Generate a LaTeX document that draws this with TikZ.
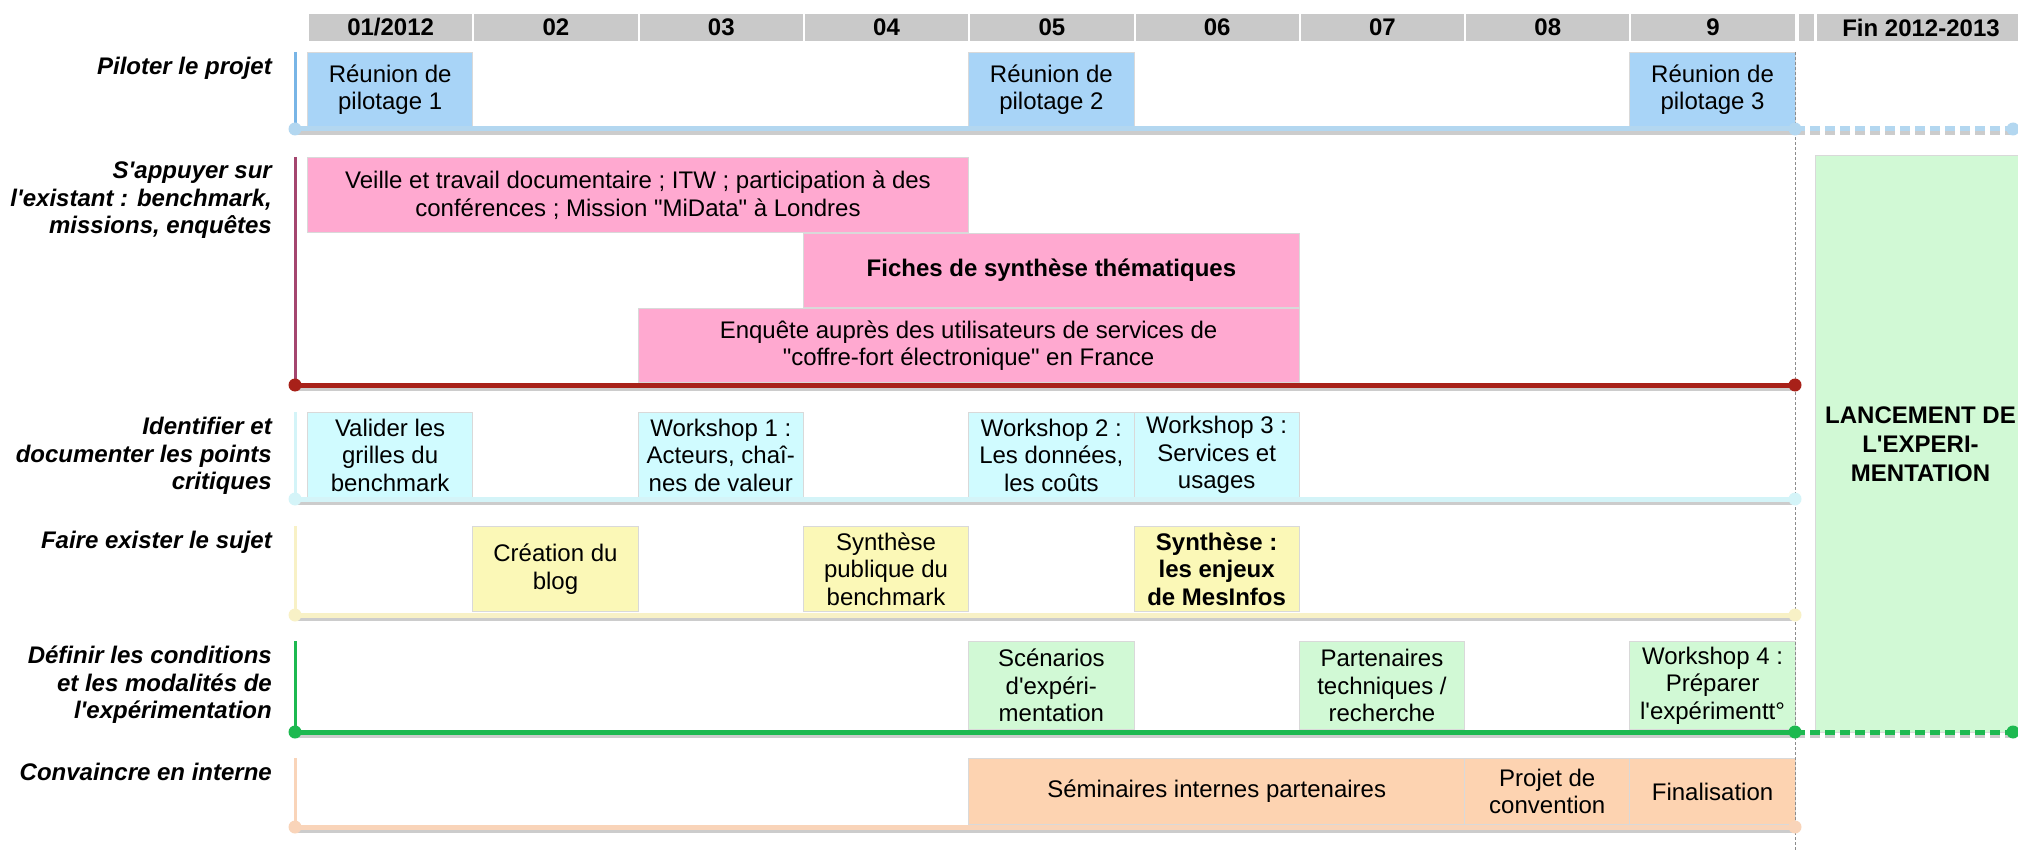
\documentclass[tikz,border=0pt]{standalone}
\usepackage{fontspec}
\setmainfont{Liberation Sans}[Ligatures=TeXOff]
\usetikzlibrary{shapes,arrows}

\definecolor{headgrey}{HTML}{C9C9C9}
\definecolor{pilotbox}{HTML}{A8D4F7}
\definecolor{pilotbar}{HTML}{B3D7F0}
\definecolor{pilotline}{HTML}{78B5E6}
\definecolor{existbox}{HTML}{FFA9D0}
\definecolor{existbar}{HTML}{A82119}
\definecolor{existline}{HTML}{A4466F}
\definecolor{critbox}{HTML}{D0FBFF}
\definecolor{critbar}{HTML}{D4F4F8}
\definecolor{sujetbox}{HTML}{FBF8B7}
\definecolor{sujetbar}{HTML}{F8F1C6}
\definecolor{xpbox}{HTML}{D1F9D5}
\definecolor{xpbar}{HTML}{1DB950}
\definecolor{internbox}{HTML}{FDD3B1}
\definecolor{internbar}{HTML}{F9D4B9}

\begin{document}
\begin{tikzpicture}[x=1pt, y=-1pt, font=\fontsize{24}{27.5}\selectfont]

    % Define block styles
    \tikzstyle{cell} = [rectangle, draw=white, line width=2pt, fill=headgrey,
        anchor=north west, inner sep=0pt, minimum width=165.3pt, minimum height=29pt,
        font=\fontsize{24}{27.5}\selectfont\bfseries]
    \tikzstyle{block} = [rectangle, draw=black!15, line width=1pt, anchor=north west,
        align=center, inner sep=0pt, minimum width=165.3pt, minimum height=74pt]
    \tikzstyle{pilot} = [block, fill=pilotbox]
    \tikzstyle{exist} = [block, fill=existbox, minimum width=661pt, minimum height=75pt]
    \tikzstyle{crit} = [block, fill=critbox, minimum height=85pt]
    \tikzstyle{sujet} = [block, fill=sujetbox, minimum height=85pt]
    \tikzstyle{xp} = [block, fill=xpbox, minimum height=88pt]
    \tikzstyle{intern} = [block, fill=internbox, minimum height=66pt]
    \tikzstyle{goal} = [anchor=north east, align=right, inner sep=0pt,
        font=\fontsize{24}{27.5}\selectfont\bfseries\itshape]
    \tikzstyle{bar} = [line width=5pt]
    \tikzstyle{shade} = [line width=7pt, black!20, transform canvas={yshift=-2.5pt}]
    \tikzstyle{riser} = [line width=3pt]
    \tikzstyle{dot} = [circle, inner sep=0pt, minimum size=13pt]

    \useasboundingbox (0,0) rectangle (2018,850);

    % Month header
    \node [cell] (m01) at (307,12) {01/2012};
    \node [cell] (m02) at (472.3,12) {02};
    \node [cell] (m03) at (637.6,12) {03};
    \node [cell] (m04) at (802.9,12) {04};
    \node [cell] (m05) at (968.2,12) {05};
    \node [cell] (m06) at (1133.5,12) {06};
    \node [cell] (m07) at (1298.8,12) {07};
    \node [cell] (m08) at (1464.1,12) {08};
    \node [cell] (m09) at (1629.4,12) {9};
    \node [cell, minimum width=17pt] (gap) at (1797,12) {};
    \node [cell, minimum width=210pt] (fin) at (1815,12) {Fin 2012-2013};

    % Row labels
    \node [goal] (g1) at (272,57) {Piloter le projet};
    \node [goal] (g2) at (272,162) {S'appuyer sur\\l'existant : benchmark,\\missions, enquêtes};
    \node [goal] (g3) at (272,417) {Identifier et\\documenter les points\\critiques};
    \node [goal] (g4) at (272,531) {Faire exister le sujet};
    \node [goal] (g5) at (272,646) {Définir les conditions\\et les modalités de\\l'expérimentation};
    \node [goal] (g6) at (272,763) {Convaincre en interne};

    % Place nodes
    \node [pilot] (pil1) at (307,52) {Réunion de\\pilotage 1};
    \node [pilot] (pil2) at (968.2,52) {Réunion de\\pilotage 2};
    \node [pilot] (pil3) at (1629.4,52) {Réunion de\\pilotage 3};

    \node [exist] (veille) at (307,157) {Veille et travail documentaire ; ITW ; participation à des\\conférences ; Mission "MiData" à Londres};
    \node [exist, minimum width=496pt, minimum height=74pt, font=\fontsize{24}{27.5}\selectfont\bfseries] (fiches) at (802.9,233) {Fiches de synthèse thématiques};
    \node [exist, minimum height=74pt] (enquete) at (637.6,308) {Enquête auprès des utilisateurs de services de\\"coffre-fort électronique" en France};

    \node [crit] (valider) at (307,412) {Valider les\\grilles du\\benchmark};
    \node [crit] (ws1) at (637.6,412) {Workshop 1 :\\Acteurs, chaî-\\nes de valeur};
    \node [crit] (ws2) at (968.2,412) {Workshop 2 :\\Les données,\\les coûts};
    \node [crit] (ws3) at (1133.5,412) {Workshop 3 :\\Services et\\usages};

    \node [sujet] (blog) at (472.3,526) {Création du\\blog};
    \node [sujet] (synpub) at (802.9,526) {Synthèse\\publique du\\benchmark};
    \node [sujet, font=\fontsize{24}{27.5}\selectfont\bfseries] (enjeux) at (1133.5,526) {Synthèse :\\les enjeux\\de MesInfos};

    \node [xp] (scen) at (968.2,641) {Scénarios\\d'expéri-\\mentation};
    \node [xp] (part) at (1298.8,641) {Partenaires\\techniques /\\recherche};
    \node [xp] (ws4) at (1629.4,641) {Workshop 4 :\\Préparer\\l'expérimentt°};

    \node [intern, minimum width=496pt] (semi) at (968.2,758) {Séminaires internes partenaires};
    \node [intern] (conv) at (1464.1,758) {Projet de\\convention};
    \node [intern] (final) at (1629.4,758) {Finalisation};

    \node [block, fill=xpbox, minimum width=210pt, minimum height=577pt,
        font=\fontsize{24}{29}\selectfont\bfseries] (launch) at (1815,155) {LANCEMENT DE\\L'EXPERI-\\MENTATION};

    % Row bars
    \coordinate (t1) at (295,52);  \coordinate (a1) at (295,129); \coordinate (b1) at (1795,129); \coordinate (c1) at (2013,129);
    \coordinate (t2) at (295,157); \coordinate (a2) at (295,385); \coordinate (b2) at (1795,385);
    \coordinate (t3) at (295,412); \coordinate (a3) at (295,499); \coordinate (b3) at (1795,499);
    \coordinate (t4) at (295,526); \coordinate (a4) at (295,615); \coordinate (b4) at (1795,615);
    \coordinate (t5) at (295,641); \coordinate (a5) at (295,732); \coordinate (b5) at (1795,732); \coordinate (c5) at (2013,732);
    \coordinate (t6) at (295,758); \coordinate (a6) at (295,827); \coordinate (b6) at (1795,827);

    \draw [shade] (a1) -- (b1);
    \draw [shade] (a2) -- (b2);
    \draw [shade] (a3) -- (b3);
    \draw [shade] (a4) -- (b4);
    \draw [shade] (a5) -- (b5);
    \draw [shade] (a6) -- (b6);
    \draw [shade, dash pattern=on 10pt off 5pt] (b1) -- (c1);
    \draw [shade, dash pattern=on 10pt off 5pt] (b5) -- (c5);

    \draw [riser, pilotline] (t1) -- (a1);
    \draw [riser, existline] (t2) -- (a2);
    \draw [riser, critbar] (t3) -- (a3);
    \draw [riser, sujetbar] (t4) -- (a4);
    \draw [riser, xpbar] (t5) -- (a5);
    \draw [riser, internbar] (t6) -- (a6);

    \draw [bar, pilotbar] (a1) -- (b1);
    \draw [bar, existbar] (a2) -- (b2);
    \draw [bar, critbar] (a3) -- (b3);
    \draw [bar, sujetbar] (a4) -- (b4);
    \draw [bar, xpbar] (a5) -- (b5);
    \draw [bar, internbar] (a6) -- (b6);
    \draw [bar, pilotbar, dash pattern=on 10pt off 5pt] (b1) -- (c1);
    \draw [bar, xpbar, dash pattern=on 10pt off 5pt] (b5) -- (c5);

    % End of the year line
    \coordinate (cuttop) at (1795,52);
    \coordinate (cutbot) at (1795,850);
    \draw [black!45, line width=1pt, dash pattern=on 3pt off 2pt] (cuttop) -- (cutbot);

    % Bar ends
    \node [dot, fill=pilotbar] (da1) at (a1) {};
    \node [dot, fill=pilotbar] (db1) at (b1) {};
    \node [dot, fill=pilotbar] (dc1) at (c1) {};
    \node [dot, fill=existbar] (da2) at (a2) {};
    \node [dot, fill=existbar] (db2) at (b2) {};
    \node [dot, fill=critbar] (da3) at (a3) {};
    \node [dot, fill=critbar] (db3) at (b3) {};
    \node [dot, fill=sujetbar] (da4) at (a4) {};
    \node [dot, fill=sujetbar] (db4) at (b4) {};
    \node [dot, fill=xpbar] (da5) at (a5) {};
    \node [dot, fill=xpbar] (db5) at (b5) {};
    \node [dot, fill=xpbar] (dc5) at (c5) {};
    \node [dot, fill=internbar] (da6) at (a6) {};
    \node [dot, fill=internbar] (db6) at (b6) {};

\end{tikzpicture}
\end{document}
